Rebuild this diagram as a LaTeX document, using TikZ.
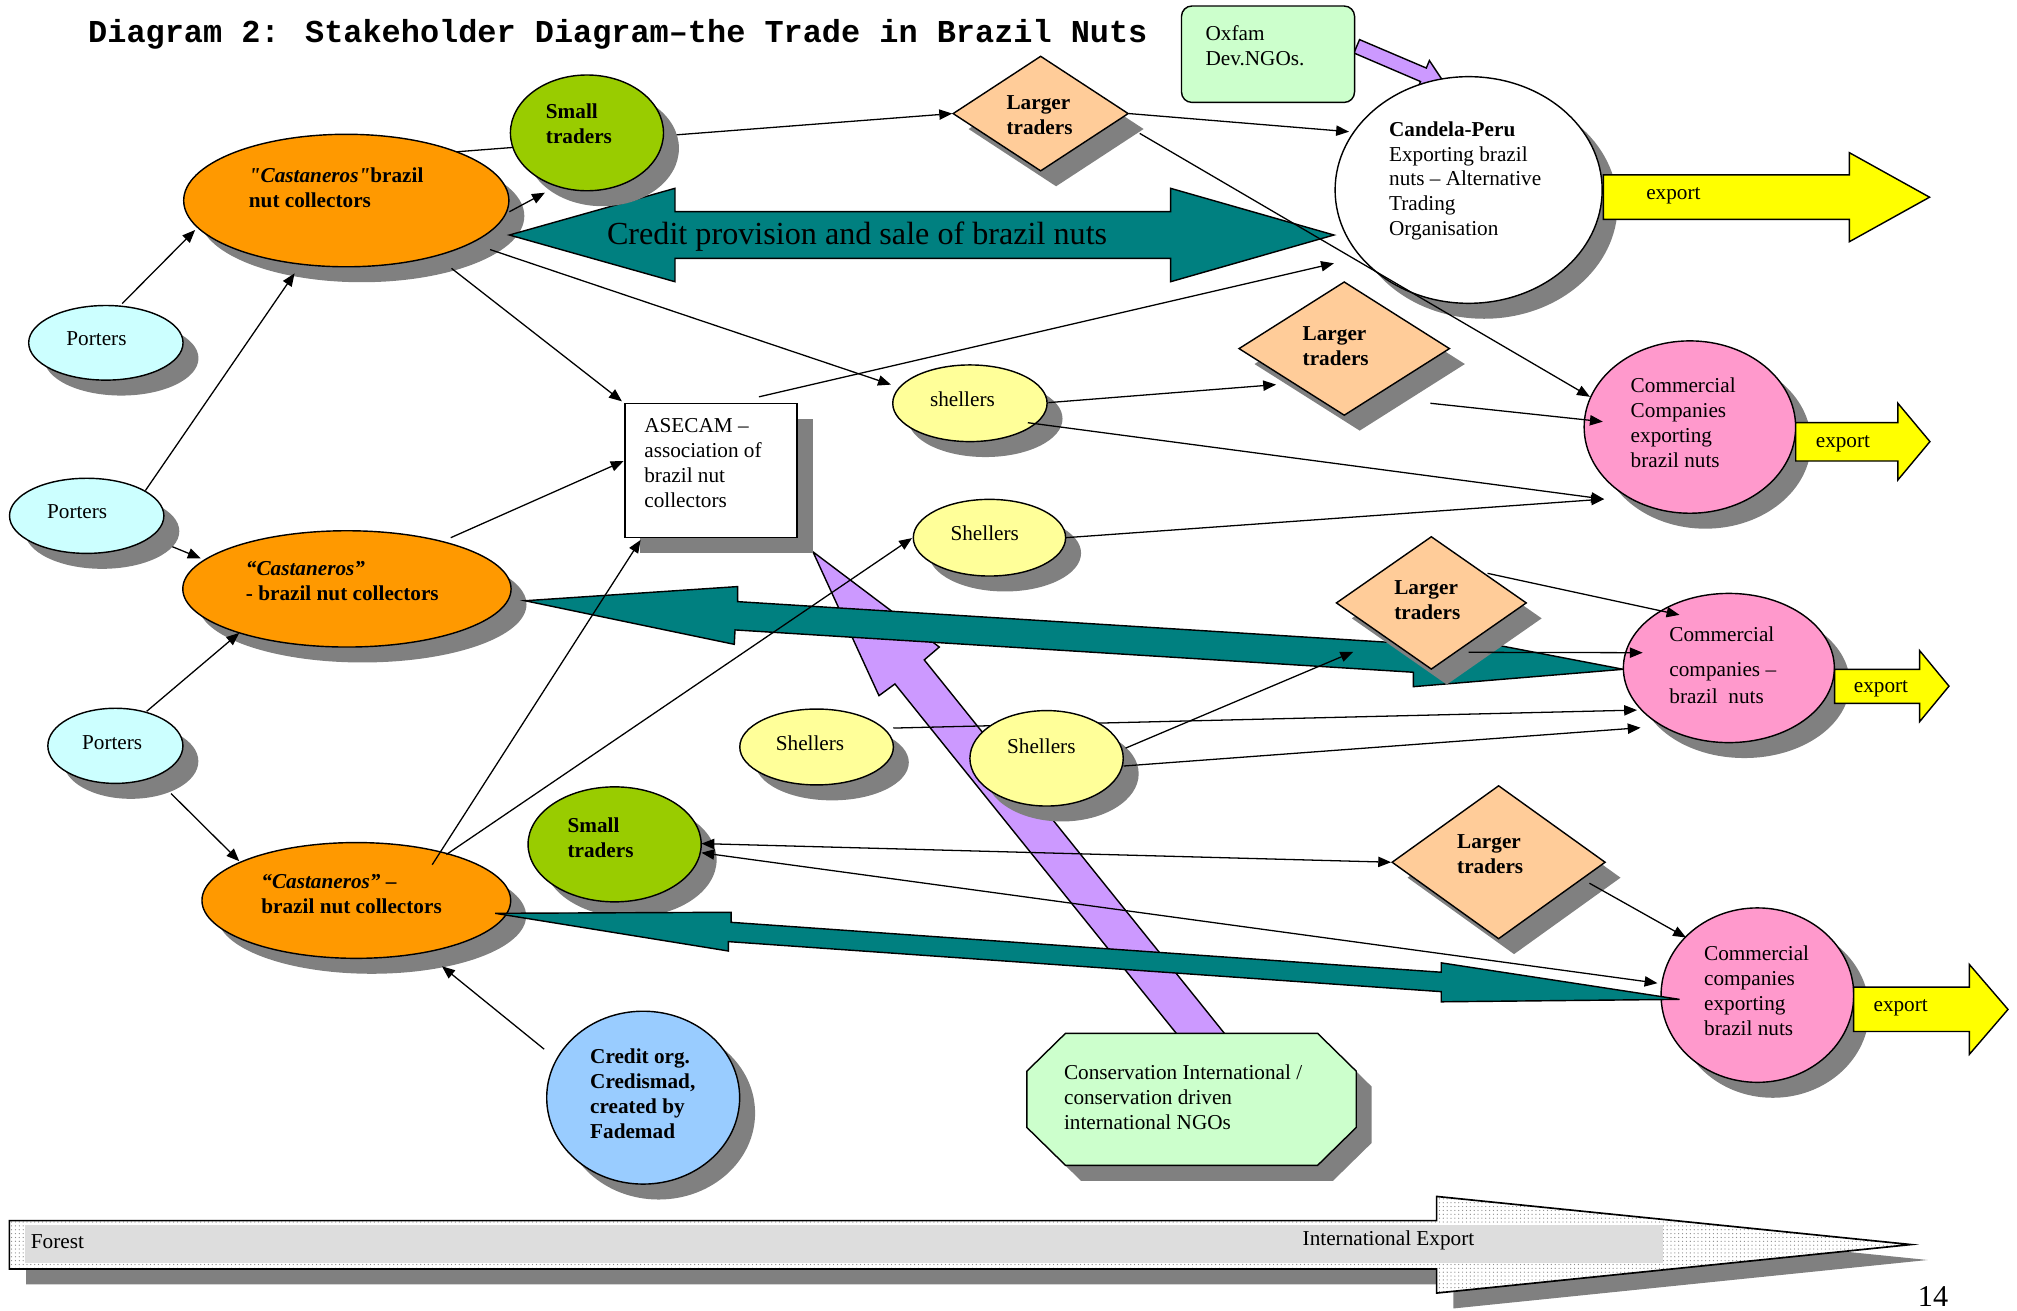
\documentclass[tikz,border=0pt]{standalone}
\usepackage{fontspec}
\setmainfont{Liberation Serif}
\newfontfamily\titlefont{Liberation Mono}
\usetikzlibrary{shapes.geometric,shadows,arrows.meta,patterns}
\definecolor{cOrange}{HTML}{FF9900}
\definecolor{cSmall}{HTML}{99CC00}
\definecolor{cLarger}{HTML}{FFCC99}
\definecolor{cPorter}{HTML}{CCFFFF}
\definecolor{cSheller}{HTML}{FFFF99}
\definecolor{cPink}{HTML}{FF99CC}
\definecolor{cTeal}{HTML}{008080}
\definecolor{cPurple}{HTML}{CC99FF}
\definecolor{cMint}{HTML}{CCFFCC}
\definecolor{cBlue}{HTML}{99CCFF}
\definecolor{cYellow}{HTML}{FFFF00}
\definecolor{cShadow}{HTML}{808080}
\definecolor{cBand}{HTML}{DDDDDD}
\begin{document}
\begin{tikzpicture}[x=1pt,y=-1pt,
  shad/.style={drop shadow={shadow xshift=12pt,shadow yshift=-12pt,fill=cShadow,opacity=1}},
  ell/.style={ellipse,draw=black,line width=1.1pt,inner sep=0pt,shad},
  dia/.style={diamond,draw=black,line width=1.1pt,inner sep=0pt,fill=cLarger,shad},
  rbox/.style={rectangle,draw=black,line width=1.1pt,inner sep=0pt},
  lbl/.style={inner sep=0pt,font=\fontsize{16.5}{19.4}\selectfont,align=left,anchor=west},
  clbl/.style={inner sep=0pt,font=\fontsize{16.5}{19.4}\selectfont,align=center,anchor=center},
  conn/.style={line width=1pt,-{Triangle[length=10pt,width=8pt]}},
  dconn/.style={line width=1pt,{Triangle[length=10pt,width=8pt]}-{Triangle[length=10pt,width=8pt]}},
  blockteal/.style={fill=cTeal,draw=black,line width=1.1pt},
  blockpurple/.style={fill=cPurple,draw=black,line width=1.1pt},
  blockyellow/.style={fill=cYellow,draw=black,line width=1.1pt},
]
\useasboundingbox (0,0) rectangle (1568,1019);

% ---------- bottom Forest -> International Export arrow
\fill[cShadow] (20.3,960.9) -- (1129.8,960.9) -- (1129.8,942.1) -- (1498.5,979.5) -- (1129.8,1017.2) -- (1129.8,998.5) -- (20.3,998.5) -- cycle;
\path[fill=white,postaction={pattern=dots,pattern color=black!45}] (7.3,948.9) -- (1116.8,948.9) -- (1116.8,930.1) -- (1485.5,967.5) -- (1116.8,1005.2) -- (1116.8,986.5) -- (7.3,986.5) -- cycle;
\fill[cBand] (19.4,952.5) rectangle (1293,982);
\draw[line width=1.3pt] (7.3,948.9) -- (1116.8,948.9) -- (1116.8,930.1) -- (1485.5,967.5) -- (1116.8,1005.2) -- (1116.8,986.5) -- (7.3,986.5) -- cycle;

% ---------- purple arrows
\filldraw[blockpurple] (916.6,806) -- (695.7,531.7) -- (683.3,540.8) -- (632,429) -- (730.2,503) -- (718.5,513) -- (954,806) -- cycle;
\filldraw[blockpurple] (1056.9,30.8) -- (1108.8,52.9) -- (1111.2,47.1) -- (1123.3,65.3) -- (1101.8,69.2) -- (1104.3,63.4) -- (1052.5,41.2) -- cycle;
\node[rbox,fill=cMint,rounded corners=8pt,minimum width=134.5pt,minimum height=74.9pt] (oxf) at (985.75,42.15) {};

% ---------- castaneros
\node[ell,fill=cOrange,minimum width=252.8pt,minimum height=103pt] (c1) at (269.2,155.9) {};
\node[ell,fill=cOrange,minimum width=255.2pt,minimum height=90.4pt] (c2) at (269.7,457.8) {};
\node[ell,fill=cOrange,minimum width=240pt,minimum height=90pt] (c3) at (277,700) {};

% ---------- teal arrows (top, middle)
\filldraw[blockteal] (396,182.7) -- (524.7,146.4) -- (524.7,164.5) -- (910,164.5) -- (910,146.4) -- (1037,182.7) -- (910,219) -- (910,200.8) -- (524.7,200.8) -- (524.7,219) -- cycle;
\filldraw[blockteal] (408.1,467) -- (573.4,456) -- (573.4,467.7) -- (1098.7,500.5) -- (1098.7,489) -- (1261.9,520.3) -- (1098.7,533.8) -- (1098.7,522.6) -- (571.4,489.7) -- (570.8,500.9) -- cycle;

% ---------- other nodes
\node[dia,minimum width=136.5pt,minimum height=89.5pt] (l1) at (809,88.3) {};
\node[dia,minimum width=164pt,minimum height=104pt] (l2) at (1045,271) {};
\node[dia,minimum width=148pt,minimum height=103.3pt] (l3) at (1112.7,468.7) {};
\node[dia,minimum width=166pt,minimum height=119.3pt] (l4) at (1165,670.3) {};
\node[ell,fill=white,minimum width=207.6pt,minimum height=176.2pt] (cand) at (1141.7,147.7) {};
\node[ell,fill=cPink,minimum width=164.4pt,minimum height=134pt] (cc1) at (1313.7,332) {};
\node[ell,fill=cPink,minimum width=164pt,minimum height=116pt] (cc2) at (1344,519.3) {};
\node[ell,fill=cPink,minimum width=149.8pt,minimum height=135.6pt] (cc3) at (1366.2,773.6) {};
\node[ell,fill=cSheller,minimum width=120pt,minimum height=59.6pt] (sh1) at (754,313.5) {};
\node[ell,fill=cSheller,minimum width=118.4pt,minimum height=59.6pt] (sh2) at (769.2,418) {};
\node[ell,fill=cSheller,minimum width=119.4pt,minimum height=59pt] (sh3) at (634.8,580.7) {};
\node[ell,fill=cPorter,minimum width=120pt,minimum height=58pt] (p1) at (82.3,266.5) {};
\node[ell,fill=cPorter,minimum width=120pt,minimum height=58.4pt] (p2) at (67.4,401) {};
\node[ell,fill=cPorter,minimum width=105pt,minimum height=58.4pt] (p3) at (89.7,579.8) {};
\node[rbox,fill=white,shad,minimum width=133.8pt,minimum height=104.5pt] (asecam) at (552.8,365.75) {};
\node[ell,fill=cBlue,minimum width=150pt,minimum height=134.4pt] (credit) at (500,853.3) {};
% octagon (Conservation International)
\fill[cShadow] (840.3,815.3) -- (1036.3,815.3) -- (1066.3,844.7) -- (1066.3,888.5) -- (1036.3,917.9) -- (840.3,917.9) -- (810.3,888.5) -- (810.3,844.7) -- cycle;
\filldraw[fill=cMint,draw=black,line width=1.1pt] (828.3,803.3) -- (1024.3,803.3) -- (1054.3,832.7) -- (1054.3,876.5) -- (1024.3,905.9) -- (828.3,905.9) -- (798.3,876.5) -- (798.3,832.7) -- cycle;

% line hidden behind small traders
\draw[conn] ([shift={(85.8,-37.9)}]c1.center) -- (l1.west);
\node[ell,fill=cSmall,minimum width=119pt,minimum height=90pt] (s1) at (456.3,103.3) {};
\node[ell,fill=cSmall,minimum width=134.6pt,minimum height=89.4pt] (s2) at (477.8,656.4) {};
% line hidden behind Shellers 4
\draw[conn] ([shift={(59.6,-14.7)}]sh3.center) -- ([shift={(-71.4,32.7)}]cc2.center);
\node[ell,fill=cSheller,minimum width=119.2pt,minimum height=74.2pt] (sh4) at (813.6,589.5) {};

% bottom teal arrow
\filldraw[blockteal] (385,710) -- (568.3,709.2) -- (568.3,717) -- (1120.4,755.8) -- (1120.4,748.5) -- (1305.6,776.9) -- (1120.4,778.8) -- (1120.4,770.9) -- (566.2,732) -- (566.2,739.3) -- cycle;

% export arrows
\filldraw[blockyellow] (1246.4,136) -- (1437.7,136) -- (1437.7,118.7) -- (1500,153.3) -- (1437.7,187.9) -- (1437.7,170.5) -- (1246.4,170.5) -- cycle;
\filldraw[blockyellow] (1396,328.6) -- (1475.4,328.6) -- (1475.4,313.5) -- (1500.3,343.3) -- (1475.4,373.1) -- (1475.4,358.4) -- (1396,358.4) -- cycle;
\filldraw[blockyellow] (1426.2,520.3) -- (1492.3,520.3) -- (1492.3,505.8) -- (1515.1,533.4) -- (1492.3,561) -- (1492.3,546.8) -- (1426.2,546.8) -- cycle;
\filldraw[blockyellow] (1441,767.4) -- (1531,767.4) -- (1531,749.8) -- (1561,784.7) -- (1531,819.6) -- (1531,801.9) -- (1441,801.9) -- cycle;

% ---------- connectors
\draw[conn] ([shift={(12.7,-30.5)}]p1.center) -- ([shift={(-117.5,22.9)}]c1.center);
\draw[conn] ([shift={(45.6,-19.6)}]p2.center) -- ([shift={(-40.2,56.6)}]c1.center);
\draw[conn] ([shift={(66.6,24)}]p2.center) -- ([shift={(-113.7,-23.8)}]c2.center);
\draw[conn] ([shift={(24.3,-26.8)}]p3.center) -- ([shift={(-83.7,34.2)}]c2.center);
\draw[conn] ([shift={(43.3,37.1)}]p3.center) -- ([shift={(-91,-30.5)}]c3.center);
\draw[conn] ([shift={(126.8,8.7)}]c1.center) -- ([shift={(-32.7,46.5)}]s1.center);
\draw[conn] (l1.east) -- ([shift={(-93,-45.3)}]cand.center);
\draw[conn] ([shift={(77,15.4)}]l1.center) -- ([shift={(-77.7,-23.5)}]cc1.center);
\draw[conn] ([shift={(37.2,-57.25)}]asecam.center) -- ([shift={(-104.7,57)}]cand.center);
\draw[conn] ([shift={(81.8,52.7)}]c1.center) -- ([shift={(-69.3,-53.75)}]asecam.center);
\draw[conn] ([shift={(111.8,38.1)}]c1.center) -- ([shift={(-61.4,-14.5)}]sh1.center);
\draw[conn] ([shift={(61,-0.5)}]sh1.center) -- ([shift={(-53,28)}]l2.center);
\draw[conn] ([shift={(45,15.1)}]sh1.center) -- ([shift={(-66.7,56)}]cc1.center);
\draw[conn] ([shift={(67,42.5)}]l2.center) -- ([shift={(-67.7,-4.2)}]cc1.center);
\draw[conn] ([shift={(59.2,0)}]sh2.center) -- ([shift={(-66.7,56)}]cc1.center);
\draw[conn] ([shift={(80.7,-39.8)}]c2.center) -- ([shift={(-68,-7.35)}]asecam.center);
\draw[conn] ([shift={(59,-27.8)}]c3.center) -- ([shift={(-54.8,54)}]asecam.center);
\draw[conn] ([shift={(70,-35.7)}]c3.center) -- ([shift={(-60.2,0.3)}]sh2.center);
\draw[conn] ([shift={(59.8,6)}]sh4.center) -- ([shift={(-68.6,46.4)}]cc2.center);
\draw[conn] ([shift={(61.4,-7.9)}]sh4.center) -- ([shift={(-60.7,38)}]l3.center);
\draw[conn] ([shift={(43.7,-23)}]l3.center) -- ([shift={(-38.4,-41.3)}]cc2.center);
\draw[conn] ([shift={(28.9,38.4)}]l3.center) -- ([shift={(-67,-11.9)}]cc2.center);
\draw[dconn] ([shift={(67.5,-0.6)}]s2.center) -- (l4.west);
\draw[dconn] ([shift={(67.5,6.5)}]s2.center) -- ([shift={(-77.7,-9.3)}]cc3.center);
\draw[conn] ([shift={(70.6,16.3)}]l4.center) -- ([shift={(-55.5,-44.8)}]cc3.center);
\draw[conn] ([shift={(-77,-37.7)}]credit.center) -- ([shift={(66.6,51.2)}]c3.center);

% ---------- texts
\node[anchor=base west,inner sep=0pt,font=\titlefont\bfseries\fontsize{24.8}{28}\selectfont] (title) at (68.4,33.2) {Diagram 2: Stakeholder Diagram–the Trade in Brazil Nuts};
\node[inner sep=0pt,font=\fontsize{25}{30}\selectfont] (tcp) at (666.3,183.7) {Credit provision and sale of brazil nuts};
\node[lbl] (toxf) at (937,37.3) {\strut Oxfam\\\strut Dev.NGOs.};
\node[lbl] (tcand) at (1079.7,140.7) {\strut\textbf{Candela-Peru}\\\strut Exporting brazil\\\strut nuts – Alternative\\\strut Trading\\\strut Organisation};
\node[lbl,font=\bfseries\fontsize{16.5}{19.4}\selectfont] (ts1) at (424.2,97.8) {\strut Small\\\strut traders};
\node[lbl,font=\bfseries\fontsize{16.5}{19.4}\selectfont] (ts2) at (441,652.8) {\strut Small\\\strut traders};
\node[lbl,font=\bfseries\fontsize{16.5}{19.4}\selectfont] (tl1) at (782.3,91.2) {\strut Larger\\\strut traders};
\node[lbl,font=\bfseries\fontsize{16.5}{19.4}\selectfont] (tl2) at (1012.5,270.2) {\strut Larger\\\strut traders};
\node[lbl,font=\bfseries\fontsize{16.5}{19.4}\selectfont] (tl3) at (1083.7,468) {\strut Larger\\\strut traders};
\node[lbl,font=\bfseries\fontsize{16.5}{19.4}\selectfont] (tl4) at (1132.6,665.7) {\strut Larger\\\strut traders};
\node[lbl,font=\bfseries\fontsize{16.5}{19.4}\selectfont] (tc1) at (193.3,147.7) {\strut\textit{\textquotedbl Castaneros\textquotedbl}brazil\\\strut nut collectors};
\node[lbl,font=\bfseries\fontsize{16.5}{19.4}\selectfont] (tc2) at (191,452.9) {\strut\textit{“Castaneros”}\\\strut - brazil nut collectors};
\node[lbl,font=\bfseries\fontsize{16.5}{19.4}\selectfont] (tc3) at (203,696.2) {\strut\textit{“Castaneros”} –\\\strut brazil nut collectors};
\node[clbl] (tp1) at (75,263) {Porters};
\node[clbl] (tp2) at (60,398) {Porters};
\node[clbl] (tp3) at (87.2,577.5) {Porters};
\node[lbl] (tas) at (500.7,361.5) {\strut ASECAM –\\\strut association of\\\strut brazil nut\\\strut collectors};
\node[clbl] (tsh1) at (748.2,310.1) {shellers};
\node[clbl] (tsh2) at (765.5,414.3) {Shellers};
\node[clbl] (tsh3) at (629.7,577.5) {Shellers};
\node[clbl] (tsh4) at (809.5,580.1) {Shellers};
\node[lbl] (tcc1) at (1267.5,330.6) {\strut Commercial\\\strut Companies\\\strut exporting\\\strut brazil nuts};
\node[lbl] (tcc2) at (1297.6,518.9) {\strut Commercial\\[7.8pt]\strut companies –\\[1.8pt]\strut brazil\ \ nuts};
\node[lbl] (tcc3) at (1324.6,772) {\strut Commercial\\\strut companies\\\strut exporting\\\strut brazil nuts};
\node[lbl,font=\bfseries\fontsize{16.5}{19.4}\selectfont] (tcr) at (458.6,851.8) {\strut Credit org.\\\strut Credismad,\\\strut created by\\\strut Fademad};
\node[lbl] (tcons) at (827,855) {\strut Conservation International /\\\strut conservation driven\\\strut international NGOs};
\node[lbl] (te1) at (1279.6,152) {export};
\node[lbl] (te2) at (1411.4,345.1) {export};
\node[lbl] (te3) at (1441,535.6) {export};
\node[lbl] (te4) at (1456.3,783.2) {export};
\node[lbl] (tfor) at (23.8,964.9) {Forest};
\node[lbl] (tint) at (1012.5,964.5) {International Export};
\node[anchor=base west,inner sep=0pt,font=\fontsize{23.5}{28}\selectfont] (pg) at (1490.8,1015.7) {14};
\end{tikzpicture}
\end{document}
